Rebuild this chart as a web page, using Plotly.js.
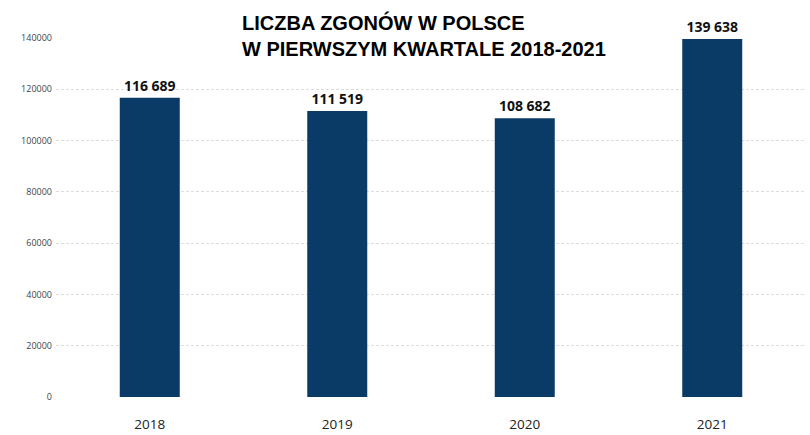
<html>
<head>
<meta charset="utf-8" />
<title>Liczba zgonów</title>
<script src="https://cdn.plot.ly/plotly-3.0.1.min.js"></script>
<style>body{margin:0;} #myDiv{width:810px;height:435px;}</style>
</head>
<body>
<div id="myDiv"></div>
<script>
const years = ['2018', '2019', '2020', '2021'];
const deaths = [116689, 111519, 108682, 139638];
const yTicks = [0, 20000, 40000, 60000, 80000, 100000, 120000, 140000];

var trace1 = {
  x: years,
  y: deaths,
  type: 'bar',
  width: 0.32,
  marker: { color: '#0a3a66' },
  texttemplate: '%{y:,d}',
  textposition: 'outside',
  cliponaxis: false,
  textfont: { family: 'Open Sans', size: 14, color: '#111', weight: 'bold' },
  hoverinfo: 'none'
};

var layout = {
  width: 810,
  height: 435,
  margin: { l: 56, r: 4, t: 38, b: 38 },
  separators: ', ',
  showlegend: false,
  plot_bgcolor: '#fff',
  paper_bgcolor: '#fff',
  xaxis: {
    type: 'category',
    showline: false,
    ticks: '',
    ticklabelstandoff: 17,
    tickfont: { family: 'Open Sans', size: 13.5, color: '#222' }
  },
  yaxis: {
    range: [0, 140000],
    tickvals: yTicks,
    tickformat: 'd',
    showgrid: true,
    gridcolor: '#dcdcdc',
    griddash: '3px,2px',
    zeroline: false,
    showline: false,
    ticklabelstandoff: 3,
    tickfont: { family: 'Open Sans', size: 9, color: '#444' }
  },
  annotations: [{
    text: 'LICZBA ZGONÓW W POLSCE<br>W PIERWSZYM KWARTALE 2018-2021',
    xref: 'paper', yref: 'paper',
    x: 0.236, y: 1.008,
    xanchor: 'left', yanchor: 'middle',
    align: 'left',
    showarrow: false,
    bgcolor: '#fff',
    borderpad: 8,
    font: { family: 'Liberation Sans', size: 20, color: '#000', weight: 'bold' }
  }]
};

Plotly.newPlot('myDiv', [trace1], layout, { displayModeBar: false, staticPlot: true });
</script>
</body>
</html>
